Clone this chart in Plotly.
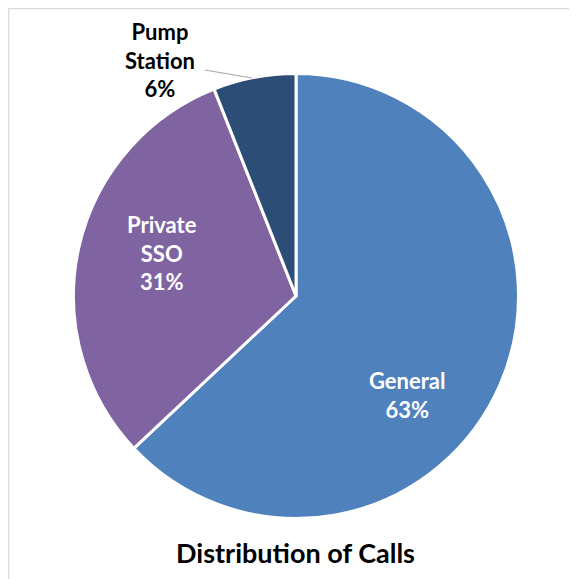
import plotly.graph_objects as go

categories = ["General", "Private SSO", "Pump Station"]
values = [63, 31, 6]
colors = ["#4F81BD", "#8064A2", "#2C4D75"]
label_lines = ["General<br>63%", "Private<br>SSO<br>31%", "Pump<br>Station<br>6%"]
title_text = "Distribution of Calls"

OFF = 8  # page body margin
W, H = 577 - OFF, 579 - OFF
cx, cy, r = 296 - OFF, 296 - OFF, 222.5


def px(x):
    return (x - OFF) / W


def py(y):
    return 1 - (y - OFF) / H


fig = go.Figure(go.Pie(
    labels=categories,
    values=values,
    marker=dict(colors=colors, line=dict(color="white", width=3)),
    sort=False,
    direction="clockwise",
    rotation=0,
    textinfo="none",
    hoverinfo="label+percent",
    showlegend=False,
    domain=dict(x=[(cx - r) / W, (cx + r) / W], y=[1 - (cy + r) / H, 1 - (cy - r) / H]),
))

font_family = "Lato, Open Sans, sans-serif"
pos = [(407, 395, "white"), (162, 253, "white"), (160, 60, "black")]
for (x, y, c), t in zip(pos, label_lines):
    fig.add_annotation(
        x=px(x), y=py(y), xref="paper", yref="paper",
        text="<b>" + t + "</b>", showarrow=False,
        font=dict(family=font_family, size=22, color=c),
        align="center", xanchor="center", yanchor="middle",
    )

fig.add_shape(type="line", xref="paper", yref="paper",
              x0=px(205), y0=py(70), x1=px(252), y1=py(78),
              line=dict(color="#A6A6A6", width=1.2))

fig.add_shape(type="line", xref="paper", yref="paper",
              x0=px(8.5), y0=py(8.5), x1=1.02, y1=py(8.5),
              line=dict(color="#D9D9D9", width=1.5))
fig.add_shape(type="line", xref="paper", yref="paper",
              x0=px(8.5), y0=py(8.5), x1=px(8.5), y1=-0.02,
              line=dict(color="#D9D9D9", width=1.5))

fig.add_annotation(
    x=px(295), y=py(552), xref="paper", yref="paper",
    text="<b>" + title_text + "</b>", showarrow=False,
    font=dict(family=font_family, size=27, color="black"),
    xanchor="center", yanchor="middle",
)

fig.update_layout(
    width=W, height=H,
    margin=dict(l=0, r=0, t=0, b=0),
    paper_bgcolor="white",
    plot_bgcolor="white",
)

fig.write_html("out.html")
